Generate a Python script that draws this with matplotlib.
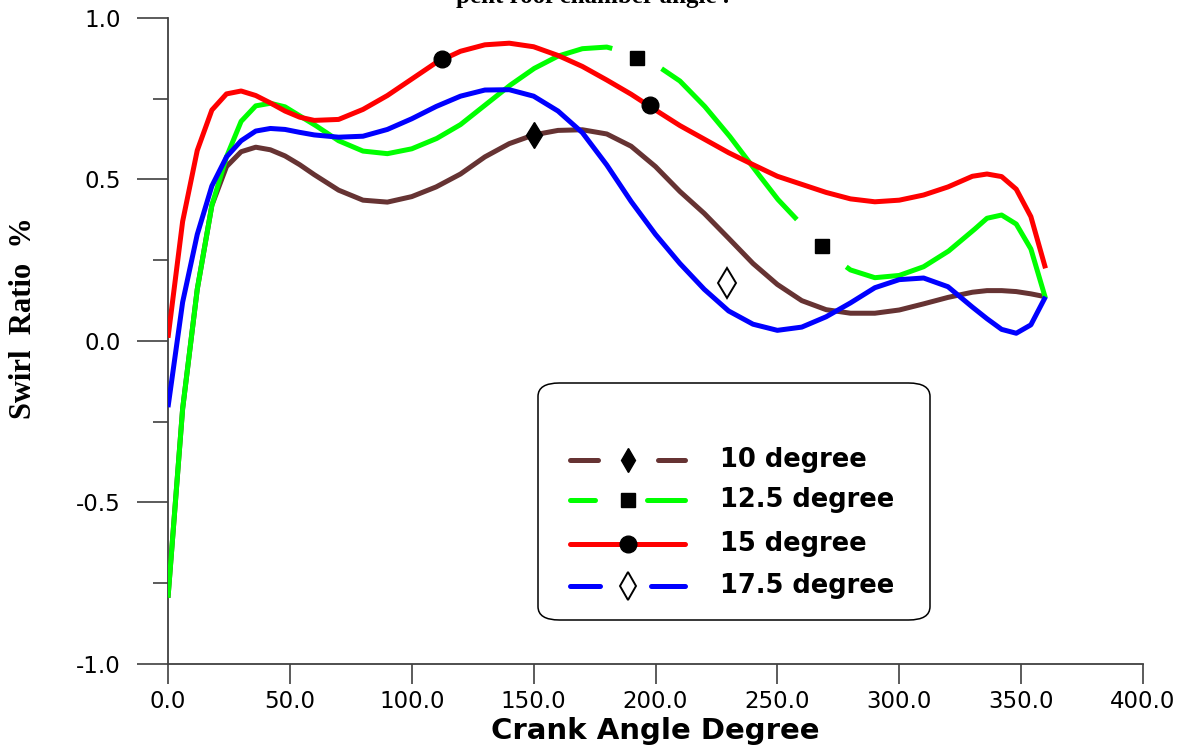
import numpy as np
import matplotlib
matplotlib.use("Agg")
import matplotlib.pyplot as plt
from matplotlib.patches import FancyBboxPatch
from matplotlib.lines import Line2D

# ---------------- data ----------------
angle = [0, 6, 12, 18, 24, 30, 36, 42, 48, 54, 60, 70, 80, 90, 100, 110, 120, 130,
         140, 150, 160, 170, 180, 190, 200, 210, 220, 230, 240, 250, 260, 270, 280,
         290, 300, 310, 320, 330, 336, 342, 348, 354, 360]

deg10 = [-0.795, -0.21, 0.16, 0.42, 0.54, 0.586, 0.60, 0.592, 0.573, 0.546, 0.515,
         0.467, 0.436, 0.43, 0.447, 0.477, 0.517, 0.57, 0.611, 0.638, 0.652, 0.654,
         0.641, 0.603, 0.54, 0.463, 0.395, 0.318, 0.24, 0.175, 0.125, 0.097, 0.086,
         0.086, 0.096, 0.115, 0.135, 0.151, 0.156, 0.156, 0.153, 0.146, 0.137]

deg12_5 = [-0.795, -0.21, 0.16, 0.42, 0.57, 0.68, 0.728, 0.736, 0.725, 0.697, 0.67,
           0.62, 0.588, 0.58, 0.595, 0.626, 0.67, 0.73, 0.79, 0.843, 0.882, 0.905,
           0.91, 0.89, 0.856, 0.805, 0.728, 0.638, 0.538, 0.44, 0.36, 0.275, 0.22,
           0.196, 0.203, 0.23, 0.277, 0.34, 0.38, 0.39, 0.362, 0.285, 0.132]

deg15 = [0.01, 0.37, 0.59, 0.715, 0.765, 0.774, 0.76, 0.737, 0.712, 0.693, 0.683,
         0.686, 0.717, 0.76, 0.811, 0.862, 0.897, 0.917, 0.922, 0.911, 0.884, 0.85,
         0.808, 0.764, 0.715, 0.667, 0.625, 0.583, 0.546, 0.51, 0.485, 0.46, 0.44,
         0.431, 0.436, 0.452, 0.477, 0.51, 0.517, 0.509, 0.47, 0.385, 0.225]

deg17_5 = [-0.205, 0.12, 0.33, 0.48, 0.57, 0.62, 0.65, 0.658, 0.655, 0.646, 0.638,
           0.631, 0.634, 0.655, 0.688, 0.726, 0.758, 0.777, 0.778, 0.758, 0.712, 0.645,
           0.545, 0.432, 0.33, 0.24, 0.16, 0.093, 0.052, 0.033, 0.043, 0.075, 0.118,
           0.165, 0.19, 0.195, 0.168, 0.105, 0.069, 0.036, 0.024, 0.05, 0.137]

# symbol positions (x, y)
sym10_x, sym10_y = [150.0], [0.638]
sym12_5_x, sym12_5_y = [192.3, 268.2], [0.875, 0.294]
sym15_x, sym15_y = [112.3, 197.7], [0.872, 0.731]
sym17_5_x, sym17_5_y = [229.5], [0.18]

labels = ["10 degree", "12.5 degree", "15 degree", "17.5 degree"]
xticks = [0, 50, 100, 150, 200, 250, 300, 350, 400]
yticks = [-1.0, -0.5, 0.0, 0.5, 1.0]

c10, c12, c15, c17 = "#663333", "#00ff00", "#ff0000", "#0000ff"
LW = 3.6

W, H = 1192, 747
fig = plt.figure(figsize=(W / 100, H / 100), dpi=100)
ax = fig.add_axes([168 / W, 1 - 664 / H, (1143 - 168) / W, (664 - 18) / H])


def fx(px):
    return px / W


def fy(py):
    return 1 - py / H


# ---------------- curves ----------------
ax.plot(angle, deg10, color=c10, lw=LW, solid_capstyle="butt", zorder=2)

# green line is broken around its symbols
xf = np.linspace(0, 360, 1441)
yg = np.interp(xf, angle, deg12_5)
gap = 10.0
for sx in sym12_5_x:
    yg[np.abs(xf - sx) < gap] = np.nan
ax.plot(xf, yg, color=c12, lw=LW, solid_capstyle="butt", zorder=3)

ax.plot(angle, deg15, color=c15, lw=LW, solid_capstyle="butt", zorder=4)
ax.plot(angle, deg17_5, color=c17, lw=LW, solid_capstyle="butt", zorder=5)

ax.plot(sym10_x, sym10_y, ls="none", marker="d", ms=13, color="black", zorder=6)
ax.plot(sym12_5_x, sym12_5_y, ls="none", marker="s", ms=10, color="black", zorder=6)
ax.plot(sym15_x, sym15_y, ls="none", marker="o", ms=12, color="black", zorder=6)
ax.plot(sym17_5_x, sym17_5_y, ls="none", marker="d", ms=15, mfc="white",
        mec="black", mew=1.4, zorder=6)

# ---------------- axes ----------------
ax.set_xlim(0, 400)
ax.set_ylim(-1.0, 1.0)
for s in ["top", "right"]:
    ax.spines[s].set_visible(False)
for s in ["left", "bottom"]:
    ax.spines[s].set_color("#404040")
    ax.spines[s].set_linewidth(1.3)
ax.spines["left"].set_zorder(1)

ax.set_xticks(xticks)
ax.set_xticklabels([f"{v:.1f}" for v in xticks])
ax.set_yticks(yticks)
ax.set_yticklabels([f"{v:.1f}" for v in yticks])
ax.set_yticks([-0.75, -0.25, 0.25, 0.75], minor=True)
ax.tick_params(axis="x", which="major", direction="out", length=14.5, width=1.2,
               color="#404040", labelsize=16.5, pad=4)
ax.tick_params(axis="y", which="major", direction="out", length=22, width=1.2,
               color="#404040", labelsize=16.5, pad=12)
ax.tick_params(axis="y", which="minor", direction="out", length=11, width=1.2,
               color="#404040")

ax.set_xlabel("Crank Angle Degree", fontsize=21, fontweight="bold", labelpad=3)
fig.text(fx(24), fy(318), "Swirl  Ratio  %", rotation=90, ha="center", va="center",
         fontsize=22, fontweight="bold", family="Liberation Serif")

# partially visible title at the top edge (cut off in the original figure)
fig.text(fx(593), fy(3), "pent roof chamber angle .", ha="center", va="baseline",
         fontsize=18, fontweight="bold", family="Liberation Serif")

# ---------------- legend ----------------
box = FancyBboxPatch((fx(538), fy(620)), fx(930) - fx(538), fy(383) - fy(620),
                     boxstyle="round,pad=0,rounding_size=0.018",
                     transform=fig.transFigure, facecolor="white",
                     edgecolor="black", lw=1.1, zorder=10)
fig.patches.append(box)

rows = [460, 500, 544, 586]
colors = [c10, c12, c15, c17]
gaps = [(598, 658), (595, 647), None, (600, 651)]
mk = [dict(marker="d", ms=12, color="black"),
      dict(marker="s", ms=10, color="black"),
      dict(marker="o", ms=12, color="black"),
      dict(marker="d", ms=14, mfc="white", mec="black", mew=1.4)]
for ry, col, g, m, lab in zip(rows, colors, gaps, mk, labels):
    segs = [(570, 685)] if g is None else [(570, g[0]), (g[1], 685)]
    for a, b in segs:
        fig.add_artist(Line2D([fx(a), fx(b)], [fy(ry), fy(ry)], color=col, lw=LW,
                              solid_capstyle="round", transform=fig.transFigure,
                              zorder=11))
    fig.add_artist(Line2D([fx(628)], [fy(ry)], ls="none", transform=fig.transFigure,
                          zorder=12, **m))
    fig.text(fx(720), fy(ry), lab, ha="left", va="center", fontsize=18.5,
             fontweight="bold", zorder=12)

fig.savefig("out.png", dpi=100, facecolor="white")
